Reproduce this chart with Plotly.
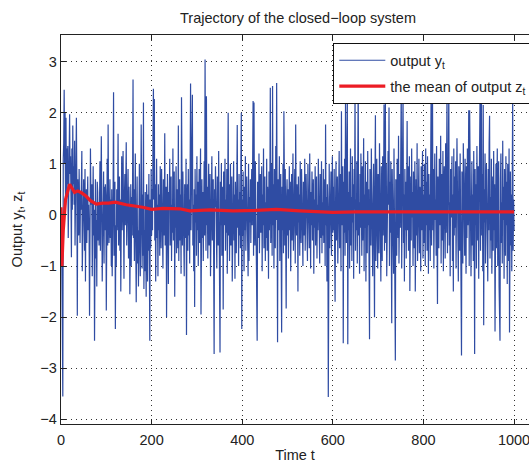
import plotly.graph_objects as go

# Output y_t, t = 1..1000 (read / estimated from the picture)
y_out = [
 0.12,-2.1,-0.9,-3.55,1.1,1.4,2.45,1.0,2.0,0.2,1.9,0.4,1.3,0.6,1.35,-0.45,1.1,0.3,1.97,0.8,
 1.15,0.35,-0.83,1.3,0.1,1.75,0.6,0.95,0.2,1.45,-0.6,0.8,0.05,1.9,0.5,-1.97,0.7,0.3,-0.4,0.9,
 0.3,-0.55,0.45,0.1,0.6,1.25,-1.1,-0.2,-0.35,0.7,0.15,-0.7,0.9,-1.3,0.25,0.5,-0.55,0.4,0.75,-0.3,
 0.2,-0.3,-1.97,-0.4,1.3,0.35,0.2,0.6,-1.2,-0.5,0.95,-0.4,0.1,-2.46,0.3,0.7,-0.85,-0.1,-1.4,0.65,
 0.45,-0.5,0.25,-0.6,0.3,1.05,-0.7,0.4,1.54,0.2,-1.3,-0.4,0.1,0.85,-0.95,0.55,-0.3,0.6,0.35,-1.87,
 0.3,1.1,-0.6,1.77,0.2,-0.55,-0.1,0.7,-0.45,0.3,-1.0,0.5,-1.2,-0.3,0.4,2.4,-0.8,0.15,0.65,-2.23,
 -0.2,-1.0,0.5,-0.3,0.25,1.59,-0.6,0.2,0.75,-0.7,0.3,-1.5,-0.4,1.15,-0.3,0.1,1.25,0.45,-1.25,0.35,
 0.8,-0.2,0.3,1.42,-0.6,0.05,-0.2,0.9,-0.85,0.55,0.1,-1.55,-0.3,0.6,-1.0,0.35,-0.4,0.6,2.65,-0.45,
 0.5,-0.9,0.3,1.2,-0.5,-1.71,-0.2,0.75,-0.95,-0.3,-1.4,0.2,1.0,-0.6,-1.2,-0.2,1.77,0.35,-1.05,0.4,
 -0.8,2.2,-1.45,-0.3,-1.1,0.45,-0.5,-1.6,0.6,0.15,-1.3,0.4,-0.7,0.8,-0.2,-2.46,0.3,-0.65,0.9,-0.4,
 0.5,-0.3,1.5,2.47,0.3,2.27,-0.5,0.6,-1.3,0.05,1.1,-0.45,0.2,-1.2,0.6,-0.3,0.4,-0.8,0.95,0.05,
 -0.65,0.9,-0.4,0.3,-1.05,0.7,0.3,-0.4,1.6,-0.6,0.25,0.55,-2.0,-0.2,0.8,-0.15,-1.35,0.45,0.1,1.1,
 -0.6,0.4,0.75,-0.9,0.2,-0.35,1.3,-0.5,0.2,0.85,-1.6,0.15,-0.25,0.95,-0.75,0.5,0.1,-0.65,1.75,-0.9,
 0.25,0.7,-0.5,0.4,-1.15,2.3,0.15,-0.6,0.85,-0.3,0.35,-1.2,0.6,0.3,-0.45,1.1,-2.35,0.1,0.6,-0.7,
 0.9,-0.4,0.3,-0.95,1.2,2.57,-0.3,0.35,0.75,2.35,-0.6,0.2,-1.1,0.5,-1.8,0.9,-0.15,0.4,-0.8,1.15,
 -0.3,0.65,-1.0,0.1,0.9,-0.55,0.1,1.3,-1.95,0.25,0.7,-0.45,0.45,-0.9,0.3,1.05,-0.4,3.04,0.6,-0.7,
 2.32,-0.2,0.55,-0.85,0.2,1.0,-0.6,0.2,0.8,-1.2,0.35,-0.3,1.15,-0.5,0.05,0.7,-0.95,-2.72,0.5,0.15,
 0.95,-0.3,0.45,-1.05,0.75,0.2,-0.6,1.25,-0.45,0.4,-2.69,0.65,-0.2,1.0,-0.8,0.1,0.55,-1.85,0.85,-0.2,
 0.3,1.1,-0.7,0.3,-0.35,0.9,-1.15,0.15,2.0,-0.4,0.6,-0.9,0.2,1.0,-0.6,0.05,0.75,-1.3,0.4,-0.25,
 1.05,-0.5,0.4,-1.25,0.65,0.1,-0.75,1.2,1.76,-0.25,0.3,-1.0,0.8,-0.4,0.45,-0.65,0.95,2.0,-2.23,0.3,
 -0.4,0.85,0.2,-1.1,0.55,-0.3,1.15,-0.7,0.2,0.75,-0.3,0.25,-1.2,1.0,-0.9,0.35,-0.15,0.7,-0.55,0.4,
 0.9,-0.2,0.5,2.23,-0.8,2.2,0.1,-0.6,1.05,-0.35,0.3,-1.0,-2.46,0.65,0.2,-0.45,1.2,-0.75,0.15,0.8,
 -0.35,0.3,0.95,-1.1,0.4,-0.2,1.3,-0.65,0.15,0.75,-0.9,0.25,-0.45,1.1,-0.7,0.55,0.2,-1.25,0.85,-0.3,
 0.45,2.49,-0.55,0.4,1.0,-0.8,2.52,-0.2,0.6,-1.05,0.9,0.1,-0.65,1.35,-0.1,2.58,0.3,-2.49,0.7,-0.3,
 0.2,1.15,-0.9,0.2,0.8,-0.45,-2.3,0.55,-0.3,1.0,-0.75,2.03,0.35,-0.6,0.9,-0.2,-1.83,0.35,0.7,-0.4,
 0.5,-0.85,0.3,0.95,-0.3,0.65,-1.1,0.15,0.8,-0.5,0.15,1.2,-0.7,0.3,-0.35,0.9,-0.95,1.77,0.2,-0.4,
 0.6,0.35,-1.5,0.75,-0.15,0.4,-0.8,1.05,0.1,-0.55,0.9,-0.3,0.25,-1.0,0.65,0.25,-0.4,1.1,-0.7,0.1,
 0.8,-0.25,0.2,-0.9,1.0,-0.1,0.55,-0.65,1.2,0.05,-1.05,0.45,-0.2,0.85,-0.5,0.15,0.7,-1.15,0.3,-0.25,
 0.95,-0.6,0.35,0.75,-0.85,0.2,-0.3,1.1,-0.3,0.5,-0.95,0.8,0.2,-0.45,1.05,-0.75,0.25,-0.4,0.9,-0.55,
 0.3,0.7,-1.0,1.77,-0.2,0.35,-1.3,0.6,0.15,-3.56,0.4,1.0,-0.65,0.15,-0.2,0.85,-0.8,0.3,1.15,-0.35,
 0.55,-0.3,0.9,-0.7,-1.7,0.2,1.05,-0.5,0.25,0.75,-0.95,0.4,-0.4,1.25,-0.65,0.3,0.8,-1.1,2.03,-0.2,
 0.3,0.95,-2.51,0.65,-0.35,1.1,-0.8,2.25,0.2,-0.55,1.0,2.2,-2.53,0.45,-0.3,0.85,-1.05,0.15,1.3,-0.6,
 0.35,-0.9,1.15,-0.15,0.6,-1.25,0.9,0.1,2.5,-0.7,0.3,-0.3,1.05,-0.95,0.5,2.6,-0.4,0.25,-1.15,0.8,
 -0.25,1.2,0.2,-0.8,0.95,-0.5,0.35,1.5,-1.1,0.4,-0.25,1.05,-1.3,0.65,0.1,-0.75,1.25,-0.2,0.5,-1.0,
 -2.43,0.9,0.3,-0.6,1.3,-0.15,0.75,-1.2,0.25,1.0,-0.45,-2.0,0.6,1.95,-0.9,0.35,1.1,-0.3,-1.05,0.8,
 0.2,-0.75,1.4,-0.3,0.5,-1.3,0.95,0.15,-0.9,1.15,-0.4,0.3,2.16,-0.7,0.4,2.2,-0.55,1.0,-1.2,0.45,
 -0.1,1.25,0.2,2.1,-1.0,0.65,-0.35,1.05,0.05,-2.12,0.9,-0.2,0.4,-1.15,1.3,0.3,-0.65,-2.85,0.7,0.45,
 -0.8,1.1,0.3,-0.45,1.55,-0.95,0.35,0.8,-0.25,0.6,2.6,-1.05,0.25,1.2,2.4,-0.55,0.4,-1.3,0.9,-0.3,
 0.65,-0.85,0.4,1.84,-0.3,0.95,-0.7,0.25,1.15,-1.49,0.2,0.75,-0.5,1.3,-0.05,0.45,-1.0,0.85,0.1,-0.65,
 1.05,-1.5,0.2,0.7,-0.4,1.4,-0.9,0.3,-0.15,1.1,-0.75,0.55,0.15,-1.1,0.95,-0.3,0.35,1.25,-0.85,0.4,
 -0.55,1.0,0.05,-1.0,1.3,-0.2,0.65,-0.7,1.15,0.25,-1.15,0.8,-0.3,0.4,-0.9,1.05,2.5,-0.6,0.45,2.4,
 -0.3,0.9,-1.05,0.5,1.2,-0.1,0.3,-0.8,1.35,-0.45,-1.74,0.75,0.2,-0.65,1.1,-0.2,0.3,1.55,-0.95,0.35,
 0.8,-0.5,1.25,-1.1,0.2,0.95,-0.3,-0.85,1.4,-0.35,0.6,2.45,-0.75,0.15,1.0,2.5,-0.6,0.25,-1.2,0.9,
 -0.05,0.5,1.15,-0.9,0.4,-1.5,1.3,-0.4,0.75,-0.25,1.05,-1.05,0.3,1.5,-0.55,0.2,-1.3,0.95,0.45,-0.7,
 1.2,-0.25,0.6,-2.75,0.85,0.3,-0.95,1.4,-0.1,0.35,-0.8,1.1,0.1,-1.15,0.95,-0.45,1.3,-0.2,0.55,2.05,
 -1.0,2.05,-0.3,0.8,-1.2,0.15,1.05,-0.6,0.4,-0.9,1.25,0.05,-2.72,0.9,-0.2,0.6,-1.05,1.35,0.3,-0.5,
 0.95,-1.25,0.3,1.15,2.4,-0.7,0.35,2.6,-0.4,0.8,-1.1,2.15,-2.16,0.5,-0.15,1.2,-0.95,0.25,1.0,-0.6,
 0.4,-1.3,0.9,-0.3,1.4,1.94,-0.85,0.35,-0.5,1.1,-1.15,0.25,0.75,-0.7,1.25,-0.3,0.6,-2.28,0.15,1.0,
 -0.65,0.4,1.3,-1.0,0.2,1.05,-1.4,-2.38,-2.46,0.7,1.2,-0.55,0.25,-0.95,1.45,-0.1,0.55,-1.25,0.9,0.1,
 -0.8,1.15,-0.2,0.65,-1.35,1.0,0.3,-0.9,1.3,-2.3,0.45,0.85,-0.6,0.4,-1.1,0.95,2.3,-0.7,0.3,-0.3,
]
t_out = list(range(1, len(y_out) + 1))

# Mean of output z_t
t_mean = [0, 2, 5, 10, 19, 25, 30, 37, 44, 55, 65, 78, 92, 105, 120, 144, 164, 180, 200,
          225, 262, 284, 328, 380, 430, 476, 527, 600, 652, 700, 800, 900, 1000]
z_mean = [0.15, -1.0, -0.3, 0.3, 0.6, 0.52, 0.44, 0.47, 0.44, 0.37, 0.28, 0.21, 0.23, 0.23, 0.25,
          0.2, 0.18, 0.15, 0.11, 0.13, 0.12, 0.08, 0.1, 0.08, 0.09, 0.11, 0.08, 0.05, 0.06, 0.06,
          0.06, 0.06, 0.06]

x_ticks = [0, 200, 400, 600, 800, 1000]
y_ticks = [-4, -3, -2, -1, 0, 1, 2, 3]

FONT = "Liberation Sans, Arial, Helvetica, sans-serif"
FS = 14.5
TXT = "#222222"

fig = go.Figure()
fig.add_trace(go.Scatter(
    x=t_out, y=y_out, mode="lines", name="output y<sub>t</sub>",
    line=dict(color="#2f4ca3", width=1.2), legendgroup="a", hoverinfo="skip"))
fig.add_trace(go.Scatter(
    x=t_mean, y=z_mean, mode="lines", name="the mean of output z<sub>t</sub>",
    line=dict(color="#ec1c24", width=3.2), legendgroup="b", hoverinfo="skip"))

axis_common = dict(
    showgrid=True, gridcolor="#333333", gridwidth=1, griddash="1px,4px",
    zeroline=False, showline=True, linecolor="#222222", linewidth=1.3,
    ticks="inside", ticklen=5, tickcolor="#222222", tickwidth=1,
    tickfont=dict(family=FONT, size=FS, color=TXT), automargin=False,
    ticklabeloverflow="allow",
)

fig.update_layout(
    width=529, height=465,
    margin=dict(l=61, r=0, t=35, b=41, autoexpand=False),
    paper_bgcolor="white", plot_bgcolor="white",
    font=dict(family=FONT, color=TXT),
    hovermode=False,
    title=dict(text="Trajectory of the closed\u2212loop system",
               x=298/529, xanchor="center", y=1 - 18/465, yanchor="middle",
               font=dict(family=FONT, size=FS, color=TXT)),
    xaxis=dict(range=[0, 1033], tickvals=x_ticks, mirror="ticks", ticklabelstandoff=2,
               title=dict(text="Time t", standoff=3,
                          font=dict(family=FONT, size=FS, color=TXT)),
               **axis_common),
    yaxis=dict(range=[-4.09, 3.52], tickvals=y_ticks, mirror=False,
               title=dict(text="Output y<sub>t</sub>, z<sub>t</sub>", standoff=14,
                          font=dict(family=FONT, size=FS, color=TXT)),
               **axis_common),
    legend=dict(x=(333 - 61) / 468, y=(424 - 43) / 389, xanchor="left", yanchor="top",
                bgcolor="white", bordercolor="#111111", borderwidth=1.3,
                font=dict(family=FONT, size=FS, color=TXT),
                tracegroupgap=4, itemwidth=46),
    showlegend=True,
)

fig.write_html("out.html", config={"displayModeBar": False, "staticPlot": True},
               post_script="document.body.style.margin='0';document.body.style.overflow='hidden';")
